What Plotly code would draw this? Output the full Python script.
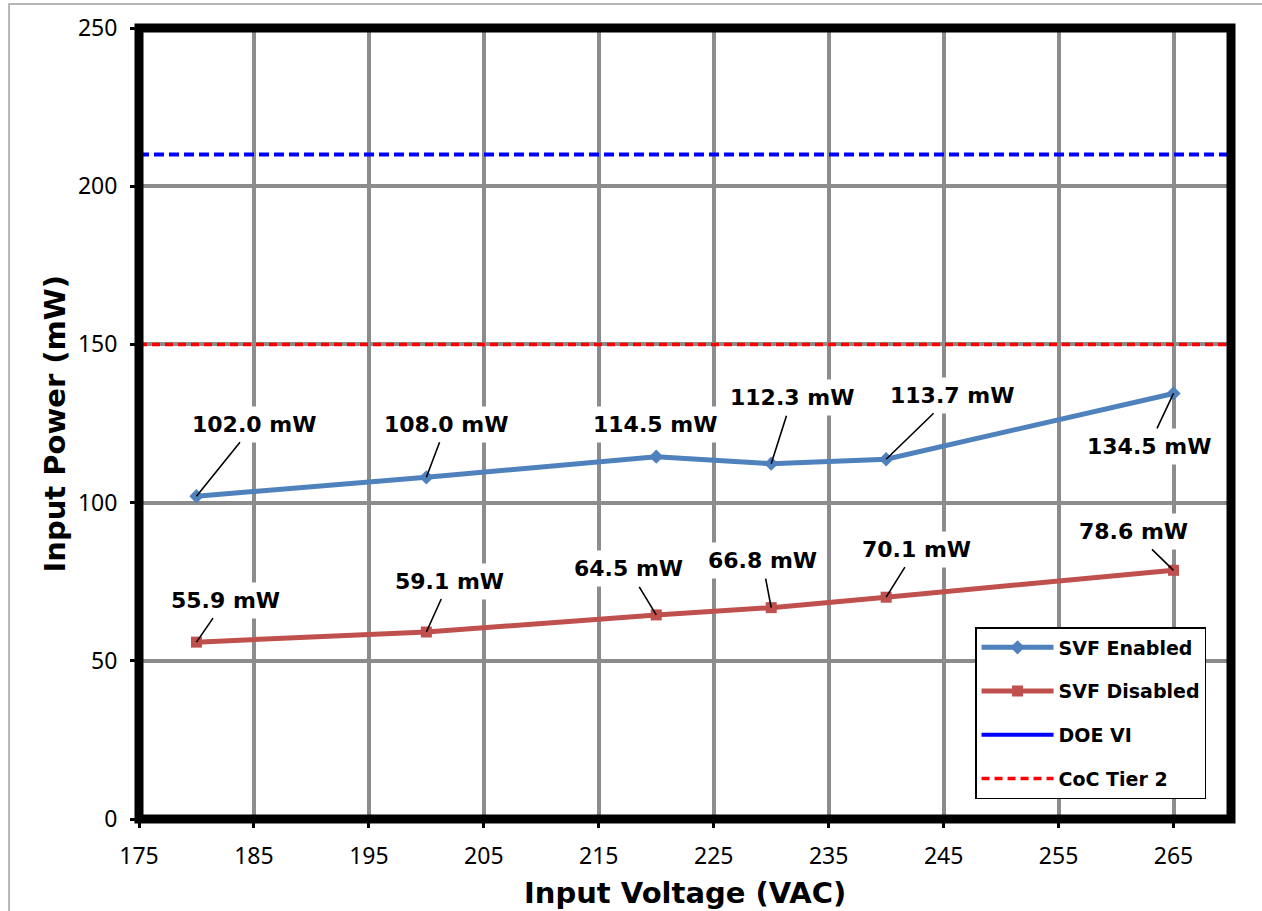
import plotly.graph_objects as go

# Measured standby input power versus AC input voltage
voltage = [180, 200, 220, 230, 240, 265]
svf_enabled = [102.0, 108.0, 114.5, 112.3, 113.7, 134.5]
svf_disabled = [55.9, 59.1, 64.5, 66.8, 70.1, 78.6]

# Regulatory limits (mW)
doe_vi_limit = 210
coc_tier2_limit = 150

x_range = [175, 270]
x_ticks = [175, 185, 195, 205, 215, 225, 235, 245, 255, 265]
y_range = [0, 250]
y_ticks = [0, 50, 100, 150, 200, 250]

# Label offsets (pixels) for the data callouts: (dx, dy, draw leader line)
enabled_offsets = [(58, -72, True), (20, -53, True), (-1, -32, False),
                   (21, -66, True), (66, -64, True), (-25, 53, True)]
disabled_offsets = [(29, -42, True), (23, -51, True), (-28, -46, True),
                    (-9, -47, True), (30, -48, True), (-40, -39, True)]

BLUE = "#4F81BD"
RED = "#C0504D"
GRID = "#8C8C8C"
FONT = "DejaVu Sans"
TICK_FONT = "Noto Sans"

fig = go.Figure()

fig.add_trace(go.Scatter(
    x=voltage, y=svf_enabled, name="SVF Enabled", mode="lines+markers",
    line=dict(color=BLUE, width=5),
    marker=dict(symbol="diamond", size=11, color=BLUE),
    legendgroup="a",
))
fig.add_trace(go.Scatter(
    x=voltage, y=svf_disabled, name="SVF Disabled", mode="lines+markers",
    line=dict(color=RED, width=5),
    marker=dict(symbol="square", size=11, color=RED),
    legendgroup="b",
))
# DOE VI limit: dashed in the plot, solid swatch in the legend
fig.add_trace(go.Scatter(
    x=x_range, y=[doe_vi_limit, doe_vi_limit], mode="lines",
    line=dict(color="#0000FF", width=4, dash="10px,5px"),
    showlegend=False, hoverinfo="skip", legendgroup="c",
))
fig.add_trace(go.Scatter(
    x=[None], y=[None], name="DOE VI", mode="lines",
    line=dict(color="#0000FF", width=4), legendgroup="c",
))
fig.add_trace(go.Scatter(
    x=x_range, y=[coc_tier2_limit, coc_tier2_limit], name="CoC Tier 2",
    mode="lines", line=dict(color="#FF0000", width=3.5, dash="8px,5px"),
    legendgroup="d",
))

annotations = []
for series, offsets in ((svf_enabled, enabled_offsets), (svf_disabled, disabled_offsets)):
    for xv, yv, (dx, dy, lead) in zip(voltage, series, offsets):
        annotations.append(dict(
            x=xv, y=yv, xref="x", yref="y",
            text=f"{yv:.1f} mW", showarrow=True, ax=dx, ay=dy,
            arrowhead=0, arrowwidth=1.6,
            arrowcolor="black" if lead else "rgba(0,0,0,0)",
            standoff=0, bgcolor="white", borderpad=5,
            font=dict(family=FONT, size=22, color="black", weight="bold"),
        ))

# Axis titles
annotations.append(dict(
    text="Input Voltage (VAC)", xref="paper", yref="paper", x=0.5, y=-0.0936,
    xanchor="center", yanchor="middle", showarrow=False,
    font=dict(family=FONT, size=29, color="black", weight="bold"),
))
annotations.append(dict(
    text="Input Power (mW)", xref="paper", yref="paper", x=-0.0778, y=0.5,
    xanchor="center", yanchor="middle", showarrow=False, textangle=-90,
    font=dict(family=FONT, size=29, color="black", weight="bold"),
))

fig.update_layout(
    width=1262, height=911,
    margin=dict(l=139, r=31, t=28, b=92),
    paper_bgcolor="white", plot_bgcolor="white",
    font=dict(family=FONT, color="black"),
    showlegend=True,
    legend=dict(
        x=0.7656, y=0.2427, xanchor="left", yanchor="top",
        bgcolor="white", bordercolor="black", borderwidth=1.5,
        font=dict(family=FONT, size=19, color="black", weight="bold"),
        traceorder="grouped", tracegroupgap=16, itemwidth=72,
    ),
    annotations=annotations,
    shapes=[
        # heavy chart frame
        dict(type="rect", xref="paper", yref="paper", x0=0, x1=1, y0=0, y1=1,
             line=dict(color="black", width=9), layer="above"),
        # thin outer border of the figure
        dict(type="rect", xref="paper", yref="paper", x0=-0.119, x1=1.06,
             y0=-0.2, y1=1.0303, line=dict(color="#A0A0A0", width=1.5),
             layer="below"),
    ],
)

fig.update_xaxes(
    range=x_range, tickvals=x_ticks, showgrid=True, gridcolor=GRID, gridwidth=4,
    zeroline=False, showline=False, ticks="outside", ticklen=8, tickwidth=3,
    tickcolor="black", ticklabelstandoff=8,
    tickfont=dict(family=TICK_FONT, size=23, color="black"),
)
fig.update_yaxes(
    range=y_range, tickvals=y_ticks, showgrid=True, gridcolor=GRID, gridwidth=4,
    zeroline=False, showline=False, ticks="outside", ticklen=8, tickwidth=3,
    tickcolor="black", ticklabelstandoff=8,
    tickfont=dict(family=TICK_FONT, size=23, color="black"),
)

fig.write_html("out.html")
